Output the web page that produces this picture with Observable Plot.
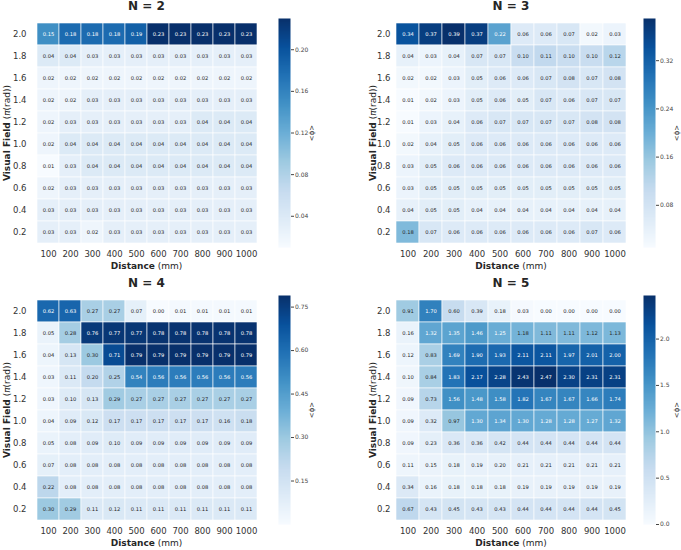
<!DOCTYPE html>
<html>
<head>
<meta charset="utf-8">
<script src="https://cdn.jsdelivr.net/npm/d3@7"></script>
<script src="https://cdn.jsdelivr.net/npm/@observablehq/plot@0.6"></script>
<style>
  body { margin: 0; background: #fff; }
  #wrap { position: relative; width: 681px; height: 550px; font-family: "DejaVu Sans", sans-serif; color: #262626; overflow: hidden; }
  .abs { position: absolute; }
  .title { font-weight: bold; font-size: 12px; transform: translate(-50%, -100%); white-space: nowrap; line-height: 1; }
  .xlab { font-size: 9px; transform: translate(-50%, -50%); white-space: nowrap; line-height: 1; }
  .ylab { font-size: 9px; transform: translate(-50%, -50%) rotate(-90deg); white-space: nowrap; line-height: 1; }
  .cblab { font-size: 7px; transform: translate(-50%, -50%) rotate(-90deg); white-space: nowrap; line-height: 1; }
</style>
</head>
<body>
<div id="wrap"></div>
<script>
const distances = [100, 200, 300, 400, 500, 600, 700, 800, 900, 1000];
const fields = [2.0, 1.8, 1.6, 1.4, 1.2, 1.0, 0.8, 0.6, 0.4, 0.2];

const n2 = [
  [0.15, 0.18, 0.18, 0.18, 0.19, 0.23, 0.23, 0.23, 0.23, 0.23],
  [0.04, 0.04, 0.03, 0.03, 0.03, 0.03, 0.03, 0.03, 0.03, 0.03],
  [0.02, 0.02, 0.02, 0.02, 0.02, 0.02, 0.02, 0.02, 0.02, 0.02],
  [0.02, 0.02, 0.03, 0.03, 0.03, 0.03, 0.03, 0.03, 0.03, 0.03],
  [0.02, 0.03, 0.03, 0.03, 0.03, 0.03, 0.03, 0.04, 0.04, 0.04],
  [0.02, 0.04, 0.04, 0.04, 0.04, 0.04, 0.04, 0.04, 0.04, 0.04],
  [0.01, 0.03, 0.04, 0.04, 0.04, 0.04, 0.04, 0.04, 0.04, 0.04],
  [0.02, 0.03, 0.03, 0.03, 0.03, 0.03, 0.03, 0.03, 0.03, 0.03],
  [0.03, 0.03, 0.03, 0.03, 0.03, 0.03, 0.03, 0.03, 0.03, 0.03],
  [0.03, 0.03, 0.02, 0.03, 0.03, 0.03, 0.03, 0.03, 0.03, 0.03]
];
const n3 = [
  [0.34, 0.37, 0.39, 0.37, 0.22, 0.06, 0.06, 0.07, 0.02, 0.03],
  [0.04, 0.03, 0.04, 0.07, 0.07, 0.10, 0.11, 0.10, 0.10, 0.12],
  [0.02, 0.02, 0.03, 0.05, 0.06, 0.06, 0.07, 0.08, 0.07, 0.08],
  [0.01, 0.02, 0.03, 0.05, 0.06, 0.05, 0.07, 0.06, 0.07, 0.07],
  [0.01, 0.03, 0.04, 0.06, 0.07, 0.07, 0.07, 0.07, 0.08, 0.08],
  [0.02, 0.04, 0.05, 0.06, 0.06, 0.06, 0.06, 0.06, 0.06, 0.06],
  [0.03, 0.05, 0.06, 0.06, 0.06, 0.06, 0.06, 0.06, 0.06, 0.06],
  [0.03, 0.05, 0.05, 0.05, 0.05, 0.05, 0.05, 0.05, 0.05, 0.05],
  [0.04, 0.05, 0.05, 0.04, 0.04, 0.04, 0.04, 0.04, 0.04, 0.04],
  [0.18, 0.07, 0.06, 0.06, 0.06, 0.06, 0.06, 0.06, 0.07, 0.06]
];
const n4 = [
  [0.62, 0.63, 0.27, 0.27, 0.07, 0.00, 0.01, 0.01, 0.01, 0.01],
  [0.05, 0.28, 0.76, 0.77, 0.77, 0.78, 0.78, 0.78, 0.78, 0.78],
  [0.04, 0.13, 0.30, 0.71, 0.79, 0.79, 0.79, 0.79, 0.79, 0.79],
  [0.03, 0.11, 0.20, 0.25, 0.54, 0.56, 0.56, 0.56, 0.56, 0.56],
  [0.03, 0.10, 0.13, 0.29, 0.27, 0.27, 0.27, 0.27, 0.27, 0.27],
  [0.04, 0.09, 0.12, 0.17, 0.17, 0.17, 0.17, 0.17, 0.16, 0.18],
  [0.05, 0.08, 0.09, 0.10, 0.09, 0.09, 0.09, 0.09, 0.09, 0.09],
  [0.07, 0.08, 0.08, 0.08, 0.08, 0.08, 0.08, 0.08, 0.08, 0.08],
  [0.22, 0.08, 0.08, 0.08, 0.08, 0.08, 0.08, 0.08, 0.08, 0.08],
  [0.30, 0.29, 0.11, 0.12, 0.11, 0.11, 0.11, 0.11, 0.11, 0.11]
];
const n5 = [
  [0.91, 1.70, 0.60, 0.39, 0.18, 0.03, 0.00, 0.00, 0.00, 0.00],
  [0.16, 1.32, 1.35, 1.46, 1.25, 1.18, 1.11, 1.11, 1.12, 1.13],
  [0.12, 0.83, 1.69, 1.90, 1.93, 2.11, 2.11, 1.97, 2.01, 2.00],
  [0.10, 0.84, 1.83, 2.17, 2.28, 2.43, 2.47, 2.30, 2.31, 2.31],
  [0.09, 0.73, 1.56, 1.48, 1.58, 1.82, 1.67, 1.67, 1.66, 1.74],
  [0.09, 0.32, 0.97, 1.30, 1.34, 1.30, 1.28, 1.28, 1.27, 1.32],
  [0.09, 0.23, 0.36, 0.36, 0.42, 0.44, 0.44, 0.44, 0.44, 0.44],
  [0.11, 0.15, 0.18, 0.19, 0.20, 0.21, 0.21, 0.21, 0.21, 0.21],
  [0.34, 0.16, 0.18, 0.18, 0.18, 0.19, 0.19, 0.19, 0.19, 0.19],
  [0.67, 0.43, 0.45, 0.43, 0.43, 0.44, 0.44, 0.44, 0.44, 0.45]
];

const titles = ["N = 2", "N = 3", "N = 4", "N = 5"];
const cbTicks = [
  [0.04, 0.08, 0.12, 0.16, 0.20],
  [0.08, 0.16, 0.24, 0.32],
  [0.15, 0.30, 0.45, 0.60, 0.75],
  [0.0, 0.5, 1.0, 1.5, 2.0]
];
const cbDigits = [2, 2, 2, 1];
const matrices = [n2, n3, n4, n5];

const bluesStops = ["#f7fbff","#deebf7","#c6dbef","#9ecae1","#6baed6","#4292c6","#2171b5","#08519c","#08306b"];
const interp = d3.piecewise(d3.interpolateRgb, bluesStops);

function relLum(c) {
  const rgb = d3.rgb(c);
  const f = v => { v /= 255; return v <= 0.03928 ? v / 12.92 : Math.pow((v + 0.055) / 1.055, 2.4); };
  return 0.2126 * f(rgb.r) + 0.7152 * f(rgb.g) + 0.0722 * f(rgb.b);
}

const wrap = document.getElementById("wrap");
function addDiv(cls, html, x, y) {
  const d = document.createElement("div");
  d.className = "abs " + cls;
  d.innerHTML = html;
  d.style.left = x + "px";
  d.style.top = y + "px";
  wrap.appendChild(d);
}

const layout = [
  {ox: 0,   hx: 32,  hw: 229, hy: 18,  hh: 229, cbx: 278, ylabx: 7,   cblabx: 312},
  {ox: 340, hx: 396, hw: 230, hy: 18,  hh: 229, cbx: 643, ylabx: 373, cblabx: 677},
  {ox: 0,   hx: 32,  hw: 229, hy: 295, hh: 229, cbx: 278, ylabx: 7,   cblabx: 312},
  {ox: 340, hx: 396, hw: 230, hy: 295, hh: 229, cbx: 643, ylabx: 373, cblabx: 677}
];

matrices.forEach((m, i) => {
  const L = layout[i];
  const data = [];
  m.forEach((row, r) => row.forEach((v, c) => data.push({d: distances[c], f: fields[r], v})));
  const [mn, mx] = d3.extent(data, d => d.v);
  const colorOf = v => interp((v - mn) / (mx - mn));
  const dark = d => relLum(colorOf(d.v)) > 0.408;

  const marginLeft = L.hx - L.ox;
  const marginTop = L.hy;
  const marginBottom = 20;
  const marginRight = 4;
  const heat = Plot.plot({
    width: marginLeft + L.hw + marginRight,
    height: marginTop + L.hh + marginBottom,
    marginLeft, marginTop, marginRight, marginBottom,
    style: {fontFamily: "DejaVu Sans", fontSize: "8.5px", color: "#333", background: "transparent", overflow: "visible"},
    x: {type: "band", domain: distances, padding: 0, label: null, tickSize: 0, tickPadding: 3, tickFormat: d => String(d)},
    y: {type: "band", domain: fields, padding: 0, label: null, tickSize: 0, tickPadding: 6, tickFormat: d => d.toFixed(1)},
    color: {type: "linear", domain: [mn, mx], interpolate: interp},
    marks: [
      Plot.cell(data, {x: "d", y: "f", fill: "v", stroke: "white", strokeWidth: 0.6, inset: 0}),
      Plot.text(data.filter(dark), {x: "d", y: "f", text: d => d.v.toFixed(2), fill: "#262626", fontSize: 5.2}),
      Plot.text(data.filter(d => !dark(d)), {x: "d", y: "f", text: d => d.v.toFixed(2), fill: "white", fontSize: 5.2})
    ]
  });
  heat.style.position = "absolute";
  heat.style.left = L.ox + "px";
  heat.style.top = "0px";
  wrap.appendChild(heat);

  const cbW = 12;
  const cb = Plot.plot({
    width: cbW + 36,
    height: marginTop + L.hh + 4,
    marginLeft: 0, marginRight: 36, marginTop, marginBottom: 4,
    style: {fontFamily: "DejaVu Sans", fontSize: "6px", color: "#444", background: "transparent", overflow: "visible"},
    x: {domain: [0, 1], axis: null},
    y: {domain: [mn, mx], axis: "right", ticks: cbTicks[i], tickSize: 3, tickPadding: 1.5, label: null, tickFormat: d => d.toFixed(cbDigits[i])},
    color: {type: "linear", domain: [mn, mx], interpolate: interp},
    marks: [
      Plot.raster({x1: 0, x2: 1, y1: mn, y2: mx, width: 1, height: 256, fill: (x, y) => y, imageRendering: "auto"})
    ]
  });
  cb.style.position = "absolute";
  cb.style.left = L.cbx + "px";
  cb.style.top = "0px";
  wrap.appendChild(cb);

  const cx = L.hx + L.hw / 2;
  addDiv("title", titles[i], cx, L.hy - 6);
  addDiv("xlab", "<b>Distance</b> (mm)", cx, L.hy + L.hh + 19);
  addDiv("ylab", "<b>Visual Field</b> (<i>π</i>(rad))", L.ylabx, L.hy + L.hh / 2);
  addDiv("cblab", "&lt;ϕ&gt;", L.cblabx, L.hy + L.hh / 2);
});
</script>
</body>
</html>
